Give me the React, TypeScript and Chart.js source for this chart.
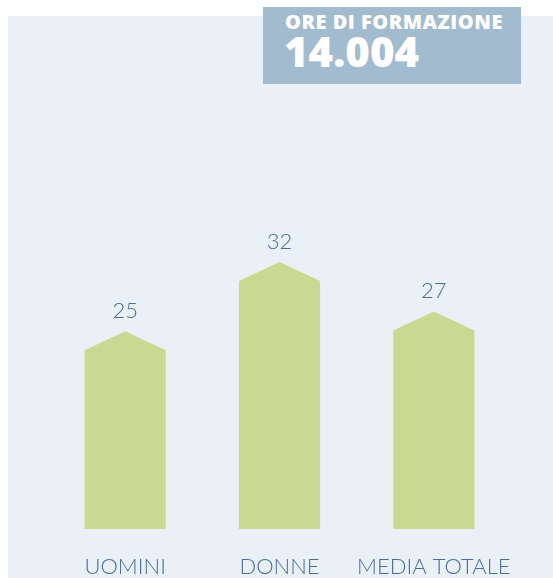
import React, { useEffect, useRef } from "react";
import { Chart, registerables } from "chart.js";

Chart.register(...registerables);

const categories = ["UOMINI", "DONNE", "MEDIA TOTALE"];
const values = [25, 32, 27];
const yMin = 5;
const yMax = 50;
const boxTitle = "ORE DI FORMAZIONE";
const boxValue = "14.004";

const PANEL = "#e9f1f6";
const BOX = "#a3bbcf";
const BAR = "#c6da92";
const TEXT = "#4b6c9c";
const LIGHT_FONT = "Lato, 'Open Sans', sans-serif";

export default function App() {
  const ref = useRef<HTMLCanvasElement>(null);

  useEffect(() => {
    if (!ref.current) return;
    const peak = 19;
    const capPlugin = {
      id: "capBars",
      afterDatasetsDraw(chart: any) {
        const ctx = chart.ctx;
        const meta = chart.getDatasetMeta(0);
        const base = chart.chartArea.bottom;
        meta.data.forEach((bar: any, i: number) => {
          const { x, y, width } = bar.getProps(["x", "y", "width"], true);
          const l = x - width / 2;
          const r = x + width / 2;
          ctx.save();
          ctx.fillStyle = BAR;
          ctx.beginPath();
          ctx.moveTo(l, base);
          ctx.lineTo(l, y + peak);
          ctx.lineTo(x, y);
          ctx.lineTo(r, y + peak);
          ctx.lineTo(r, base);
          ctx.closePath();
          ctx.fill();
          ctx.fillStyle = TEXT;
          ctx.font = "300 22px " + LIGHT_FONT;
          ctx.textAlign = "center";
          ctx.textBaseline = "alphabetic";
          ctx.fillText(String(values[i]), x, y - 13);
          ctx.restore();
        });
      },
    };

    const chart = new Chart(ref.current, {
      type: "bar",
      data: {
        labels: categories,
        datasets: [
          {
            data: values,
            base: yMin,
            backgroundColor: "rgba(0,0,0,0)",
            borderWidth: 0,
            categoryPercentage: 1,
            barPercentage: 0.526,
          },
        ],
      },
      options: {
        animation: false,
        responsive: false,
        devicePixelRatio: 1,
        layout: { padding: { left: 40, right: 42, top: 68, bottom: 0 } },
        plugins: { legend: { display: false }, tooltip: { enabled: false } },
        scales: {
          x: {
            grid: { display: false, drawTicks: false },
            border: { display: false },
            ticks: {
              color: TEXT,
              font: { family: LIGHT_FONT, size: 22, weight: "300" as any },
              padding: 25,
              maxRotation: 0,
              autoSkip: false,
            },
            afterFit: (scale: any) => {
              scale.height = 49;
            },
          },
          y: { display: false, min: yMin, max: yMax },
        },
      },
      plugins: [capPlugin],
    });
    return () => chart.destroy();
  }, []);

  return (
    <div
      style={{
        position: "absolute",
        left: 0,
        top: 0,
        width: 553,
        height: 578,
        overflow: "hidden",
        background: "#ffffff",
      }}
    >
      <div
        style={{
          position: "absolute",
          left: 8,
          top: 16,
          width: 545,
          height: 562,
          background: PANEL,
        }}
      />
      <canvas
        ref={ref}
        width={545}
        height={562}
        style={{ position: "absolute", left: 8, top: 16, width: 545, height: 562 }}
      />
      <div
        style={{
          position: "absolute",
          left: 263,
          top: 7,
          width: 258,
          height: 77,
          background: BOX,
        }}
      >
        <div
          style={{
            position: "absolute",
            left: 22,
            top: 5,
            fontFamily: "'Open Sans', sans-serif",
            fontWeight: 800,
            fontSize: 20,
            letterSpacing: 0.5,
            lineHeight: 1,
            color: "#ffffff",
            whiteSpace: "nowrap",
          }}
        >
          {boxTitle}
        </div>
        <div
          style={{
            position: "absolute",
            left: 21,
            top: 23,
            fontFamily: "'Open Sans', sans-serif",
            fontWeight: 800,
            fontSize: 42,
            lineHeight: 1,
            color: "#ffffff",
            whiteSpace: "nowrap",
          }}
        >
          {boxValue}
        </div>
      </div>
    </div>
  );
}
